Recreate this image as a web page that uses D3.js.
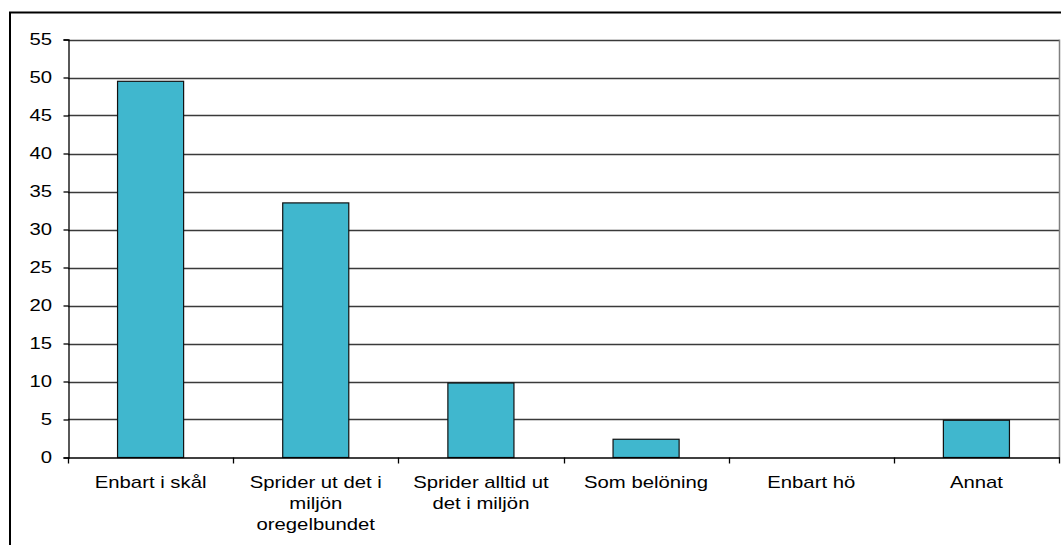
<!DOCTYPE html>
<html>
<head>
<meta charset="utf-8">
<script src="https://cdn.jsdelivr.net/npm/d3@7"></script>
<style>
  html, body { margin: 0; padding: 0; background: #fff; }
  svg { display: block; font-family: "Liberation Sans", Arial, sans-serif; }
</style>
</head>
<body>
<svg id="chart" width="1061" height="545"></svg>
<script>
// Svar: hur ges godiset?
const categories = [
  "Enbart i skål",
  "Sprider ut det i miljön oregelbundet",
  "Sprider alltid ut det i miljön",
  "Som belöning",
  "Enbart hö",
  "Annat"
];
const values = [49.5, 33.5, 9.8, 2.4, 0, 4.9];
const yTicks = [0, 5, 10, 15, 20, 25, 30, 35, 40, 45, 50, 55];

const svg = d3.select("#chart");
const W = 1061, H = 545;
const plot = { left: 68, right: 1059, top: 39.5, bottom: 457.5 };
const FONT = 16;       // label font size
const STRETCH = 1.27;  // horizontal stretch of label glyphs

// outer chart frame (continues past the window edges)
svg.append("rect")
  .attr("x", 10).attr("y", 12.5)
  .attr("width", W + 20).attr("height", H + 20)
  .attr("fill", "#fff").attr("stroke", "#000").attr("stroke-width", 2);

const x = d3.scaleBand()
  .domain(categories)
  .range([plot.left, plot.right])
  .paddingInner(0.6)
  .paddingOuter(0.3);

const y = d3.scaleLinear()
  .domain([0, 55])
  .range([plot.bottom, plot.top]);

// horizontal gridlines
svg.append("g")
  .selectAll("line")
  .data(yTicks.filter(d => d > 0))
  .join("line")
  .attr("x1", plot.left).attr("x2", plot.right)
  .attr("y1", d => Math.round(y(d)) + 0.5)
  .attr("y2", d => Math.round(y(d)) + 0.5)
  .attr("stroke", "#3a3a3a").attr("stroke-width", 1.3);

// right edge of plot area
svg.append("line")
  .attr("x1", plot.right + 0.5).attr("x2", plot.right + 0.5)
  .attr("y1", y(55)).attr("y2", plot.bottom)
  .attr("stroke", "#808080").attr("stroke-width", 1.5);

// bars
svg.append("g")
  .selectAll("rect")
  .data(categories.map((c, i) => ({ c, v: values[i] })).filter(d => d.v > 0))
  .join("rect")
  .attr("x", d => x(d.c))
  .attr("y", d => y(d.v))
  .attr("width", x.bandwidth())
  .attr("height", d => y(0) - y(d.v))
  .attr("fill", "#40B7CE")
  .attr("stroke", "#111").attr("stroke-width", 1.2);

// y axis (line + ticks from d3, labels drawn stretched)
const yAxis = d3.axisLeft(y).tickValues(yTicks).tickSize(5).tickFormat("");
const gy = svg.append("g")
  .attr("transform", `translate(${plot.left + 0.5},0)`)
  .call(yAxis);
gy.select(".domain").attr("stroke", "#000").attr("stroke-width", 1.3);
gy.selectAll(".tick line").attr("stroke", "#000").attr("stroke-width", 1.3);

svg.append("g")
  .selectAll("text")
  .data(yTicks)
  .join("text")
  .attr("transform", d => `translate(${plot.left - 16},${y(d)}) scale(${STRETCH},1)`)
  .attr("text-anchor", "end")
  .attr("dy", "0.36em")
  .attr("font-size", FONT).attr("fill", "#000")
  .text(d => d);

// x axis: boundary ticks between categories
const bounds = d3.range(categories.length + 1).map(i => plot.left + i * (plot.right - plot.left) / categories.length);
svg.append("line")
  .attr("x1", plot.left).attr("x2", plot.right + 1)
  .attr("y1", plot.bottom + 0.5).attr("y2", plot.bottom + 0.5)
  .attr("stroke", "#000").attr("stroke-width", 1.3);
svg.append("g")
  .selectAll("line")
  .data(bounds)
  .join("line")
  .attr("x1", d => Math.round(d) + 0.5).attr("x2", d => Math.round(d) + 0.5)
  .attr("y1", plot.bottom).attr("y2", plot.bottom + 6)
  .attr("stroke", "#000").attr("stroke-width", 1.3);

// category labels, wrapped to fit
function wrapWords(text, maxW, measure) {
  const words = text.split(" ");
  const lines = [];
  let cur = "";
  words.forEach(w => {
    const t = cur ? cur + " " + w : w;
    if (cur && measure(t) > maxW) { lines.push(cur); cur = w; }
    else cur = t;
  });
  if (cur) lines.push(cur);
  return lines;
}
const probe = svg.append("text").attr("font-size", FONT).attr("visibility", "hidden");
const measure = s => { probe.text(s); return probe.node().getComputedTextLength() * STRETCH; };

const labels = svg.append("g");
categories.forEach(c => {
  const cx = x(c) + x.bandwidth() / 2;
  const lines = wrapWords(c, 150, measure);
  const t = labels.append("text")
    .attr("transform", `translate(${cx},487.5) scale(${STRETCH},1)`)
    .attr("text-anchor", "middle")
    .attr("font-size", FONT).attr("fill", "#000");
  lines.forEach((ln, i) => {
    t.append("tspan").attr("x", 0).attr("dy", i === 0 ? 0 : 21.5).text(ln);
  });
});
probe.remove();
</script>
</body>
</html>
